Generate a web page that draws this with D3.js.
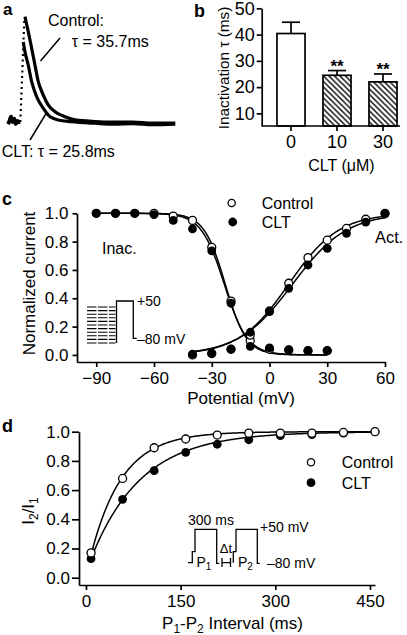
<!DOCTYPE html>
<html><head><meta charset="utf-8">
<script src="https://cdn.jsdelivr.net/npm/d3@7/dist/d3.min.js"></script>
<style>
body{margin:0;background:#fff}
svg{display:block}
text{font-family:"Liberation Sans",Arial,Helvetica,sans-serif;fill:#000}
</style>
</head><body>
<svg id="chart" width="407" height="635"></svg>
<script>
// ---------------- DATA ----------------
// Panel a: current traces (time in ms, normalised current)
const preTime = [-44,-40,-36,-32,-28,-24,-20,-16,-12];
const preCurrent = [-0.02,0.01,0.05,0.0,0.03,-0.02,0.01,0.0,0.0];
const riseTime = [-12,-1.5];
const riseCurrent = [0.0,0.98];
const controlTime = [0,8.6,17.4,26,34.6,47.6,60.6,78,104,130,182,230,280,330,390];
const controlCurrent = [1.0,0.858,0.70,0.54,0.383,0.256,0.161,0.098,0.05,0.02,0.005,0.0,0.0,-0.01,-0.01];
const cltTime = [-4.4,0,8.6,17.4,30.4,47.6,60.6,86.6,121,182,230,280,330,390];
const cltCurrent = [0.76,0.667,0.54,0.383,0.24,0.13,0.066,0.019,0.003,-0.012,-0.02,-0.015,-0.025,-0.02];

// Panel b: inactivation tau
const concs = ["0","10","30"];
const tauMean = [40.4,24.5,22.0];
const tauErr = [4.3,1.8,3.0];
const tauSig = ["","**","**"];
const tauTicks = [10,20,30,40,50];

// Panel c: activation / inactivation
const inacV = [-90,-80,-70,-60,-50,-40,-30,-20,-10,0,10,20,30];
const inacControl = [1.0,1.0,1.0,1.0,0.98,0.95,0.76,0.38,0.10,0.04,0.035,0.03,0.03];
const inacCLT = [1.0,1.0,1.0,0.99,0.95,0.89,0.734,0.365,0.06,0.05,0.035,0.03,0.03];
const actV = [-40,-30,-20,-10,0,10,20,30,40,50,60];
const actControl = [0.0,0.01,0.04,0.14,0.31,0.506,0.687,0.81,0.893,0.958,1.0];
const actCLT = [0.005,0.01,0.04,0.16,0.306,0.47,0.635,0.753,0.859,0.937,0.995];
const potTicks = [-90,-60,-30,0,30,60];
const normTicks = [0,0.2,0.4,0.6,0.8,1.0];
// Boltzmann fit parameters [V1/2, k]
const inacFitControl = [-23,5.5];
const inacFitCLT = [-23.5,6];
const actFitControl = [10,13];
const actFitCLT = [12,14];

// Panel d: recovery from inactivation
const intervals = [8,58,108,158,208,258,308,358,408,458];
const recControl = [0.17,0.68,0.89,0.95,0.977,0.99,0.99,0.99,0.995,1.0];
const recCLT = [0.13,0.537,0.733,0.859,0.914,0.945,0.973,0.98,0.99,1.0];
const intTicks = [0,150,300,450];
// exponential fit parameters [A, tau]
const recFitControl = [0.99,50];
const recFitCLT = [0.96,80];

// ---------------- DRAW ----------------
const svg = d3.select("#chart");
const AX = 1.7;
function styleAxis(g, fs){
  g.attr("font-size",null).attr("font-family",null);
  g.select(".domain").attr("stroke","#000").attr("stroke-width",AX);
  g.selectAll(".tick line").attr("stroke","#000").attr("stroke-width",AX);
  g.selectAll(".tick text").attr("font-size",fs).attr("fill","#000");
}
function label(x,y,t,fs,opts={}){
  const e = svg.append("text").attr("x",x).attr("y",y).attr("font-size",fs).text(t);
  if(opts.bold) e.attr("font-weight","bold");
  if(opts.anchor) e.attr("text-anchor",opts.anchor);
  return e;
}

// panel letters
label(3,15,"a",17,{bold:true});
label(194,17,"b",18,{bold:true});
label(2,205,"c",18,{bold:true});
label(2,431.5,"d",18,{bold:true});

// ===== Panel a =====
const xa = d3.scaleLinear().domain([-44,392]).range([8,176]);
const ya = d3.scaleLinear().domain([0,1]).range([122,16.7]);
const lineA = d3.line().x(d=>xa(d[0])).y(d=>ya(d[1])).curve(d3.curveMonotoneX);
const zip = (a,b)=>a.map((v,i)=>[v,b[i]]);
svg.append("path").attr("d",lineA(zip(preTime,preCurrent))).attr("fill","none").attr("stroke","#000").attr("stroke-width",4);
svg.append("path").attr("d",d3.line().x(d=>xa(d[0])).y(d=>ya(d[1]))(zip(riseTime,riseCurrent)))
  .attr("fill","none").attr("stroke","#000").attr("stroke-width",2.2).attr("stroke-dasharray","2,3.5");
svg.append("path").attr("d",lineA(zip(controlTime,controlCurrent))).attr("fill","none").attr("stroke","#000").attr("stroke-width",3.2);
svg.append("path").attr("d",lineA(zip(cltTime,cltCurrent))).attr("fill","none").attr("stroke","#000").attr("stroke-width",3.2);
// pointers
svg.append("line").attr("x1",60).attr("y1",38).attr("x2",40.5).attr("y2",61).attr("stroke","#000").attr("stroke-width",1.5);
svg.append("line").attr("x1",30).attr("y1",140).attr("x2",47).attr("y2",112).attr("stroke","#000").attr("stroke-width",1.5);
label(48,25.7,"Control:",16);
label(71.7,47.4,"τ = 35.7ms",16);
label(1.7,157.4,"CLT: τ = 25.8ms",16);

// ===== Panel b =====
const xb = d3.scaleBand().domain(concs).range([268,406]).paddingInner(0.39).paddingOuter(0.195);
const yb = d3.scaleLinear().domain([5.2,50]).range([126,8.3]);
const defs = svg.append("defs");
const pat = defs.append("pattern").attr("id","hatch").attr("patternUnits","userSpaceOnUse").attr("width",5.5).attr("height",5.5);
pat.append("rect").attr("width",5.5).attr("height",5.5).attr("fill","#fff");
pat.append("path").attr("d","M0,0L5.5,5.5M-1,4.5L1,6.5M4.5,-1L6.5,1").attr("stroke","#000").attr("stroke-width",1.4);
const bars = concs.map((c,i)=>({c,m:tauMean[i],e:tauErr[i],s:tauSig[i]}));
// error bars
bars.forEach(b=>{
  const cx = xb(b.c)+xb.bandwidth()/2;
  svg.append("line").attr("x1",cx).attr("x2",cx).attr("y1",yb(b.m)).attr("y2",yb(b.m+b.e)).attr("stroke","#000").attr("stroke-width",AX);
  svg.append("line").attr("x1",cx-9).attr("x2",cx+9).attr("y1",yb(b.m+b.e)).attr("y2",yb(b.m+b.e)).attr("stroke","#000").attr("stroke-width",AX);
  if(b.s) label(cx,yb(b.m+b.e)+1,b.s,17,{bold:true,anchor:"middle"});
});
svg.selectAll(".barb").data(bars).enter().append("rect")
  .attr("x",d=>xb(d.c)).attr("width",xb.bandwidth())
  .attr("y",d=>yb(d.m)).attr("height",d=>yb(5.2)-yb(d.m))
  .attr("fill",(d,i)=>i===0?"#fff":"url(#hatch)").attr("stroke","#000").attr("stroke-width",AX);
const gby = svg.append("g").attr("transform","translate(261.7,0)")
  .call(d3.axisLeft(yb).tickValues(tauTicks).tickSize(5).tickPadding(2).tickSizeOuter(0));
styleAxis(gby,18);
const gbx = svg.append("g").attr("transform","translate(0,126)")
  .call(d3.axisBottom(xb).tickSize(5).tickPadding(4).tickSizeOuter(0));
styleAxis(gbx,18);
gbx.select(".domain").attr("d","M261.7,0H400");
label(341.5,170.5,"CLT (μM)",16,{anchor:"middle"});
svg.append("text").attr("transform","translate(229,68) rotate(-90)").attr("text-anchor","middle").attr("font-size",15.3).text("Inactivation τ (ms)");

// ===== Panel c =====
const xc = d3.scaleLinear().domain([-100,60]).range([77,385]);
const yc = d3.scaleLinear().domain([-0.05,1]).range([362,213.3]);
const boltzInac = p=>v=>1/(1+Math.exp((v-p[0])/p[1]));
const boltzAct = p=>v=>1/(1+Math.exp((p[0]-v)/p[1]));
const lineC = d3.line().x(d=>xc(d[0])).y(d=>yc(d[1]));
const fitPts = (f,a,b)=>d3.range(a,b+0.01,0.5).map(v=>[v,f(v)]);
[[boltzInac(inacFitControl),-90,30],[boltzInac(inacFitCLT),-90,30],[boltzAct(actFitControl),-40,60],[boltzAct(actFitCLT),-40,60]]
  .forEach(([f,a,b])=>svg.append("path").attr("d",lineC(fitPts(f,a,b))).attr("fill","none").attr("stroke","#000").attr("stroke-width",1.5));
function dots(xs,ys,xsc,ysc,open){
  svg.append("g").selectAll("circle").data(zip(xs,ys)).enter().append("circle")
    .attr("cx",d=>xsc(d[0])).attr("cy",d=>ysc(d[1])).attr("r",open?4:4.4)
    .attr("fill",open?"#fff":"#000").attr("stroke","#000").attr("stroke-width",open?1.3:0);
}
dots(inacV,inacControl,xc,yc,true);
dots(actV,actControl,xc,yc,true);
dots(inacV,inacCLT,xc,yc,false);
dots(actV,actCLT,xc,yc,false);
const gcx = svg.append("g").attr("transform","translate(0,362)")
  .call(d3.axisBottom(xc).tickValues(potTicks).tickSize(5).tickPadding(5).tickSizeOuter(0));
styleAxis(gcx,17);
const gcy = svg.append("g").attr("transform","translate(77,0)")
  .call(d3.axisLeft(yc).tickValues(normTicks).tickFormat(d3.format(".1f")).tickSize(4.5).tickPadding(4).tickSizeOuter(0));
styleAxis(gcy,17);
label(241,404,"Potential (mV)",17,{anchor:"middle"});
svg.append("text").attr("transform","translate(35,283.5) rotate(-90)").attr("text-anchor","middle").attr("font-size",17).text("Normalized current");
label(102,254,"Inac.",16);
label(375,242.5,"Act.",16.4);
// legend c
svg.append("circle").attr("cx",231.7).attr("cy",203).attr("r",3.6).attr("fill","#fff").attr("stroke","#000").attr("stroke-width",1.3);
svg.append("circle").attr("cx",232.7).attr("cy",222).attr("r",4.4).attr("fill","#000");
label(261.7,209,"Control",16);
label(261.7,228,"CLT",16);
// inset c: protocol
const dashYs = d3.range(0,11).map(i=>307+i*3.6);
dashYs.forEach(y=>svg.append("line").attr("x1",87).attr("x2",115.5).attr("y1",y).attr("y2",y)
  .attr("stroke","#000").attr("stroke-width",1.1).attr("stroke-dasharray","9.5,1.5"));
svg.append("path").attr("d","M116.5,343V301H133.3V338.3H136.7").attr("fill","none").attr("stroke","#000").attr("stroke-width",1.3);
label(137,306,"+50",14);
label(137,344,"–80 mV",14);

// ===== Panel d =====
const xd = d3.scaleLinear().domain([-11.1,458]).range([79,375]);
const yd = d3.scaleLinear().domain([-0.05,1]).range([585,431.7]);
const expRec = p=>t=>1-p[0]*Math.exp(-t/p[1]);
const lineD = d3.line().x(d=>xd(d[0])).y(d=>yd(d[1]));
[recFitControl,recFitCLT].forEach(p=>{
  const f = expRec(p);
  svg.append("path").attr("d",lineD(d3.range(8,458.1,1).map(t=>[t,f(t)]))).attr("fill","none").attr("stroke","#000").attr("stroke-width",1.5);
});
dots(intervals,recCLT,xd,yd,false);
dots(intervals,recControl,xd,yd,true);
const gdx = svg.append("g").attr("transform","translate(0,585)")
  .call(d3.axisBottom(xd).tickValues(intTicks).tickSize(5).tickPadding(5).tickSizeOuter(0));
styleAxis(gdx,17);
const gdy = svg.append("g").attr("transform","translate(79,0)")
  .call(d3.axisLeft(yd).tickValues(normTicks).tickFormat(d3.format(".1f")).tickSize(7).tickPadding(2).tickSizeOuter(0));
styleAxis(gdy,17);
// x title with subscripts
const tx = svg.append("text").attr("x",232.5).attr("y",629).attr("text-anchor","middle").attr("font-size",17);
tx.append("tspan").text("P");
tx.append("tspan").attr("font-size",12).attr("dy",4).text("1");
tx.append("tspan").attr("dy",-4).text("-P");
tx.append("tspan").attr("font-size",12).attr("dy",4).text("2");
tx.append("tspan").attr("dy",-4).text(" Interval (ms)");
const ty = svg.append("text").attr("transform","translate(33.5,511) rotate(-90)").attr("text-anchor","middle").attr("font-size",17);
ty.append("tspan").text("I");
ty.append("tspan").attr("font-size",12).attr("dy",4).text("2");
ty.append("tspan").attr("dy",-4).text("/I");
ty.append("tspan").attr("font-size",12).attr("dy",4).text("1");
// legend d
svg.append("circle").attr("cx",311).attr("cy",462.3).attr("r",3.6).attr("fill","#fff").attr("stroke","#000").attr("stroke-width",1.3);
svg.append("circle").attr("cx",311).attr("cy",482.7).attr("r",4.4).attr("fill","#000");
label(341.7,468.4,"Control",16);
label(341.7,488.8,"CLT",16);
// inset d: paired pulse protocol
const pp = "M188,562.7H192.3V551.7H195V529.3H216.7V563.3H219.3" +
           "M222,558V567M222,562.7H230.5M230.5,558V567" +
           "M233.3,562.7V551.7H236V529.3H257.3V563.3H259.7";
svg.append("path").attr("d",pp).attr("fill","none").attr("stroke","#000").attr("stroke-width",1.3);
label(188,525,"300 ms",14);
label(260,532.3,"+50 mV",14);
label(267,567.7,"–80 mV",14);
label(226,553,"Δt",13,{anchor:"middle"});
const p1 = svg.append("text").attr("x",196.5).attr("y",566.7).attr("font-size",14);
p1.append("tspan").text("P"); p1.append("tspan").attr("font-size",10).attr("dy",3).text("1");
const p2 = svg.append("text").attr("x",238).attr("y",566.7).attr("font-size",14);
p2.append("tspan").text("P"); p2.append("tspan").attr("font-size",10).attr("dy",3).text("2");
</script>
</body></html>
